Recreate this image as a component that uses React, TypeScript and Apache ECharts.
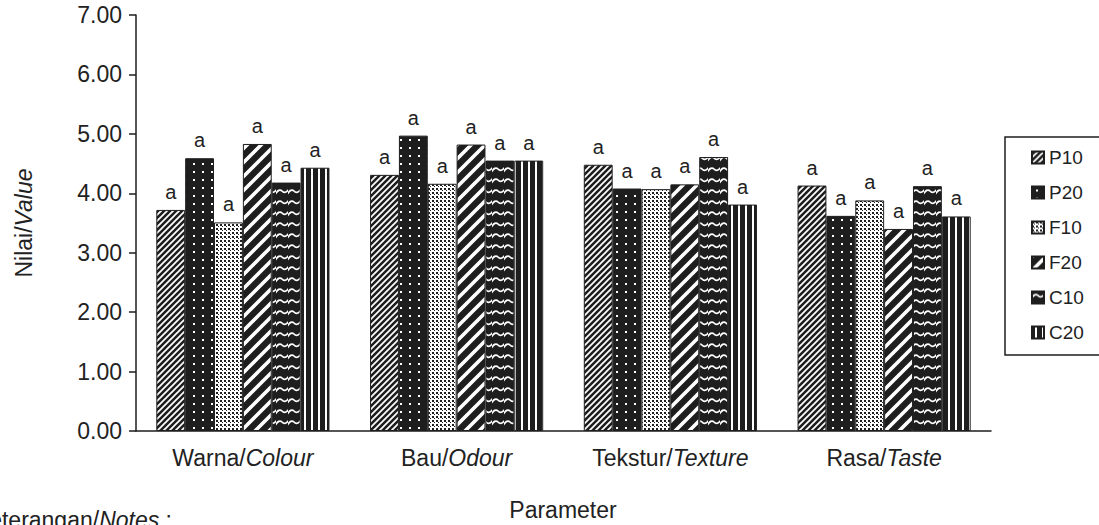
import React, { useEffect, useRef } from "react";
import * as echarts from "echarts";

const categories = ["Warna/Colour", "Bau/Odour", "Tekstur/Texture", "Rasa/Taste"];
const seriesNames = ["P10", "P20", "F10", "F20", "C10", "C20"];
const P10 = [3.72, 4.31, 4.48, 4.13];
const P20 = [4.59, 4.97, 4.08, 3.62];
const F10 = [3.51, 4.16, 4.07, 3.88];
const F20 = [4.83, 4.82, 4.15, 3.4];
const C10 = [4.18, 4.55, 4.61, 4.12];
const C20 = [4.43, 4.55, 3.81, 3.61];
const letters = ["a", "a", "a", "a"];
const yMin = 0;
const yMax = 7;
const yStep = 1;

const INK = "#1e1e1e";
const TXT = "#222222";
const FONT = "Liberation Sans, Arial, sans-serif";

function makePattern(kind: string) {
  const c = document.createElement("canvas");
  let w = 6;
  let h = 6;
  if (kind === "P20") { w = 9; h = 8; }
  if (kind === "F10") { w = 4; h = 4; }
  if (kind === "F20") { w = 14; h = 14; }
  if (kind === "C10") { w = 12; h = 11; }
  if (kind === "C20") { w = 7; h = 4; }
  c.width = w;
  c.height = h;
  const ctx = c.getContext("2d")!;
  ctx.fillStyle = kind === "F10" ? "#ffffff" : INK;
  ctx.fillRect(0, 0, w, h);
  ctx.strokeStyle = "#ffffff";
  ctx.fillStyle = "#ffffff";
  if (kind === "P10") {
    ctx.lineWidth = 1.7;
    ctx.beginPath();
    for (let k = -1; k <= 1; k++) {
      ctx.moveTo(k * w - 1, h + 1);
      ctx.lineTo(k * w + w + 1, -1);
    }
    ctx.stroke();
  } else if (kind === "P20") {
    ctx.fillRect(4, 3, 2, 2);
  } else if (kind === "F10") {
    ctx.fillStyle = INK;
    ctx.fillRect(0, 0, 2, 2);
    ctx.fillRect(2, 2, 1, 1);
  } else if (kind === "F20") {
    ctx.lineWidth = 3.6;
    ctx.beginPath();
    for (let k = -1; k <= 1; k++) {
      ctx.moveTo(k * w - 2, h + 2);
      ctx.lineTo(k * w + w + 2, -2);
    }
    ctx.stroke();
  } else if (kind === "C10") {
    ctx.lineWidth = 1.7;
    ctx.beginPath();
    ctx.moveTo(-1, 7.5);
    ctx.quadraticCurveTo(3, 1, 6, 4);
    ctx.quadraticCurveTo(9, 7.5, 13, 2);
    ctx.stroke();
  } else if (kind === "C20") {
    ctx.fillRect(3, 0, 2, h);
  }
  return { image: c, repeat: "repeat", imageWidth: w, imageHeight: h };
}

export default function App() {
  const ref = useRef<HTMLDivElement>(null);
  useEffect(() => {
    if (!ref.current) return;
    const chart = echarts.init(ref.current, null, { renderer: "svg" });
    const values = [P10, P20, F10, F20, C10, C20];
    const series = seriesNames.map((name, i) => ({
      name,
      type: "bar",
      data: values[i],
      barGap: "0%",
      barCategoryGap: "19%",
      itemStyle: { color: makePattern(name), borderColor: INK, borderWidth: 1 },
      label: {
        show: true,
        position: "top",
        distance: 8,
        formatter: (p: any) => letters[p.dataIndex],
        color: TXT,
        fontSize: 20,
        fontFamily: FONT,
      },
    }));
    chart.setOption({
      animation: false,
      backgroundColor: "#ffffff",
      textStyle: { fontFamily: FONT },
      grid: { left: 136, right: 108, top: 15, bottom: 94, containLabel: false },
      legend: {
        orient: "vertical",
        left: 1026,
        top: 143,
        icon: "rect",
        itemWidth: 12,
        itemHeight: 12,
        itemGap: 16,
        itemTextGap: 9,
        data: seriesNames,
        textStyle: { fontSize: 19, color: TXT, fontFamily: FONT, lineHeight: 19 },
      },
      xAxis: {
        type: "category",
        data: categories,
        axisLine: { lineStyle: { color: INK, width: 1.5 } },
        axisTick: { length: 6, lineStyle: { color: INK, width: 1.5 } },
        axisLabel: {
          margin: 15,
          formatter: (v: string) => {
            const [a, b] = v.split("/");
            return `{n|${a}/}{i|${b}}`;
          },
          rich: {
            n: { fontSize: 23, color: TXT, fontFamily: FONT },
            i: { fontSize: 23, color: TXT, fontStyle: "italic", fontFamily: FONT },
          },
        },
      },
      yAxis: {
        type: "value",
        min: yMin,
        max: yMax,
        interval: yStep,
        name: "{n|Nilai/}{i|Value}",
        nameLocation: "middle",
        nameGap: 101,
        nameRotate: 90,
        nameTextStyle: {
          rich: {
            n: { fontSize: 23, color: TXT, fontFamily: FONT },
            i: { fontSize: 23, color: TXT, fontStyle: "italic", fontFamily: FONT },
          },
        },
        splitLine: { show: false },
        axisLine: { show: true, lineStyle: { color: INK, width: 1.5 } },
        axisTick: { show: true, length: 7, lineStyle: { color: INK, width: 1.5 } },
        axisLabel: {
          margin: 14,
          fontSize: 23,
          color: TXT,
          fontFamily: FONT,
          formatter: (v: number) => v.toFixed(2),
        },
      },
      graphic: [
        {
          type: "rect",
          shape: { x: 1005, y: 137, width: 130, height: 218 },
          style: { fill: "none", stroke: INK, lineWidth: 1.5 },
        },
        {
          type: "text",
          x: 563,
          y: 510,
          style: {
            text: "Parameter",
            fontSize: 23,
            fill: TXT,
            fontFamily: FONT,
            textAlign: "center",
            textVerticalAlign: "middle",
          },
        },
        {
          type: "text",
          x: 172,
          y: 520,
          style: {
            text: "{n|Keterangan/}{i|Notes}{n| :}",
            textAlign: "right",
            textVerticalAlign: "middle",
            rich: {
              n: { fontSize: 23, fill: TXT, fontFamily: FONT },
              i: { fontSize: 23, fill: TXT, fontStyle: "italic", fontFamily: FONT },
            },
          },
        },
      ],
      series,
    });
    return () => chart.dispose();
  }, []);
  return (
    <div
      ref={ref}
      style={{ position: "fixed", left: 0, top: 0, width: 1099, height: 525, background: "#fff" }}
    />
  );
}
